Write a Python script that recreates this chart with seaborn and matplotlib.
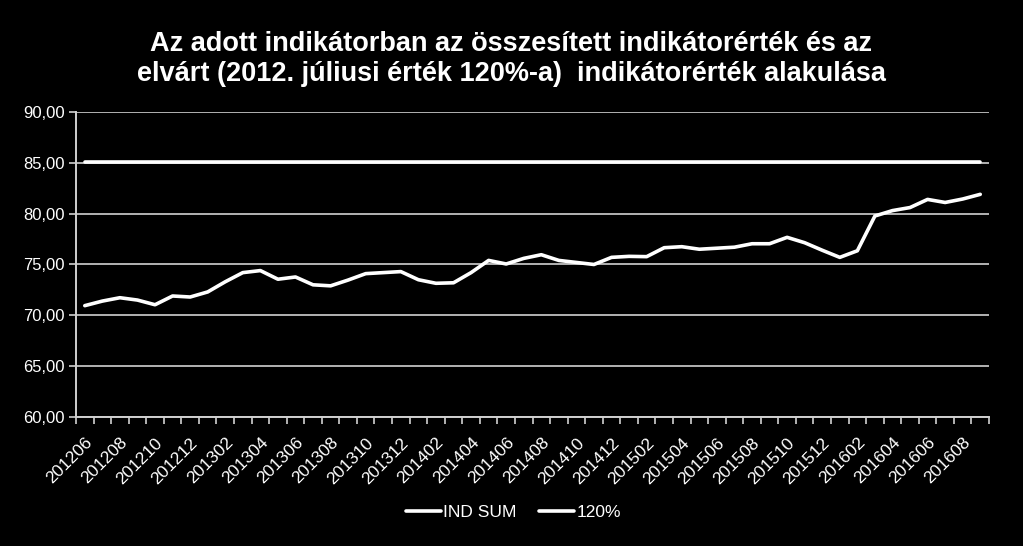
import matplotlib
matplotlib.use("Agg")
import matplotlib.pyplot as plt
import seaborn as sns
import pandas as pd
import numpy as np
from matplotlib.ticker import FixedLocator
from matplotlib.lines import Line2D

months = []
for y in range(2012, 2017):
    for m in range(1, 13):
        if (y == 2012 and m < 6) or (y == 2016 and m > 9):
            continue
        months.append(f"{y}{m:02d}")

ind_sum = [70.95, 71.4, 71.73, 71.5, 71.04, 71.9, 71.8, 72.3, 73.3, 74.2,
           74.4, 73.55, 73.77, 73.0, 72.9, 73.47, 74.1, 74.2, 74.3, 73.5,
           73.15, 73.2, 74.2, 75.4, 75.05, 75.6, 75.96, 75.4, 75.2, 75.0,
           75.7, 75.8, 75.77, 76.65, 76.75, 76.5, 76.6, 76.7, 77.04, 77.04,
           77.67, 77.14, 76.4, 75.7, 76.35, 79.77, 80.3, 80.6, 81.4, 81.1,
           81.44, 81.9]
expected = [85.1] * len(months)

series_names = ["IND SUM", "120%"]

df = pd.DataFrame({
    "idx": list(range(len(months))) * 2,
    "month": months * 2,
    "value": ind_sum + expected,
    "series": [series_names[0]] * len(months) + [series_names[1]] * len(months),
})

sns.set_theme(style="white")
plt.rcParams['font.family'] = ['Liberation Sans', 'DejaVu Sans']

fig = plt.figure(figsize=(10.23, 5.46), dpi=100, facecolor="black")
ax = fig.add_axes([0.0743, 0.2363, 0.8925, 0.5586])
ax.set_facecolor("black")

sns.lineplot(data=df, x="idx", y="value", hue="series",
             palette={"IND SUM": "white", "120%": "white"},
             linewidth=2.6, ax=ax, legend=False)

ax.set_xlim(-0.5, len(months) - 0.5)
ax.set_ylim(60, 90)
yt = np.arange(60, 90.1, 5)
ax.set_yticks(yt)
ax.set_yticklabels([f"{v:.2f}".replace(".", ",") for v in yt],
                   color="white", fontsize=12)
ax.yaxis.grid(True, color="#d0d0d0", linewidth=1.2)
ax.set_axisbelow(True)

label_pos = list(range(0, len(months), 2))
ax.set_xticks(label_pos)
ax.set_xticklabels([months[i] for i in label_pos], rotation=45, ha="right",
                   rotation_mode="anchor", color="white", fontsize=12.5)
ax.xaxis.set_minor_locator(FixedLocator(np.arange(-0.5, len(months), 1)))
ax.tick_params(axis="x", which="major", length=0, pad=13)
ax.tick_params(axis="x", which="minor", length=5, color="#d0d0d0", width=1.2,
               direction="out", bottom=True)
ax.tick_params(axis="y", which="major", length=5, color="#d0d0d0", width=1.2,
               direction="out", left=True, pad=3)

ax.set_xlabel("")
ax.set_ylabel("")
for s in ["top", "right"]:
    ax.spines[s].set_visible(False)
for s in ["left", "bottom"]:
    ax.spines[s].set_color("#d0d0d0")
    ax.spines[s].set_linewidth(1.4)

handles = [Line2D([0], [0], color="white", linewidth=2.6) for _ in series_names]
leg = fig.legend(handles, series_names, loc="center", bbox_to_anchor=(0.502, 0.062),
                 ncol=2, frameon=False, fontsize=12.5, handlelength=2.0,
                 handletextpad=0.15, columnspacing=1.3)
for t in leg.get_texts():
    t.set_color("white")

fig.text(0.5, 0.892, "Az adott indikátorban az összesített indikátorérték és az\n"
         "elvárt (2012. júliusi érték 120%-a)  indikátorérték alakulása",
         ha="center", va="center", color="white", fontsize=19.5, fontweight="bold",
         linespacing=1.2)

fig.savefig("out.png", dpi=100, facecolor="black")
